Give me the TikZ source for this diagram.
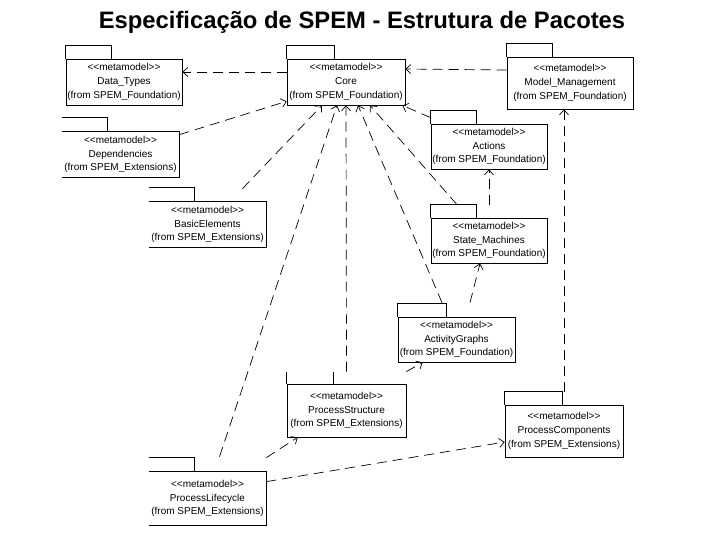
\documentclass[tikz,border=0pt]{standalone}
\usepackage{fontspec}
\setmainfont{Liberation Sans}
\usetikzlibrary{arrows.meta}
\newcommand{\mm}{<\kern0pt<metamodel>\kern0pt>}
\begin{document}
\begin{tikzpicture}[x=1pt, y=-1pt, line width=.7pt,
  pkg/.style={draw, align=center, inner sep=0pt, font=\fontsize{10}{13.8}\selectfont},
  pkgopen/.style={pkg, draw=none},
  dep/.style={draw, dash pattern=on 10pt off 6pt, -{Straight Barb[length=5pt,width=9pt]}}]
\useasboundingbox (0,0) rectangle (720,540);

\node[font=\bfseries\fontsize{23.8}{28}\selectfont, anchor=base] (title) at (362,29)
  {Especificação de SPEM - Estrutura de Pacotes};

% packages
\node[pkg, minimum width=116pt, minimum height=46pt] (dtypes) at (124,82)
  {\mm\\Data\_Types\\(from SPEM\_Foundation)};
\node[pkg, minimum width=118pt, minimum height=46pt] (core) at (346,82)
  {\mm\\Core\\(from SPEM\_Foundation)};
\node[pkg, minimum width=126pt, minimum height=52pt] (mmgmt) at (570,83)
  {\mm\\Model\_Management\\(from SPEM\_Foundation)};
\node[pkgopen, minimum width=117pt, minimum height=45pt] (deps) at (120.5,154.5)
  {\mm\\Dependencies\\(from SPEM\_Extensions)};
\node[pkg, minimum width=116pt, minimum height=45pt] (actions) at (489,146.5)
  {\mm\\Actions\\(from SPEM\_Foundation)};
\node[pkgopen, minimum width=117pt, minimum height=45pt] (basic) at (207.5,224.5)
  {\mm\\BasicElements\\(from SPEM\_Extensions)};
\node[pkg, minimum width=116pt, minimum height=45pt] (smach) at (489,240.5)
  {\mm\\State\_Machines\\(from SPEM\_Foundation)};
\node[pkg, minimum width=117pt, minimum height=45pt] (agraphs) at (456.5,339.5)
  {\mm\\ActivityGraphs\\(from SPEM\_Foundation)};
\node[pkg, minimum width=119pt, minimum height=53pt] (pstruct) at (346.5,410.5)
  {\mm\\ProcessStructure\\(from SPEM\_Extensions)};
\node[pkg, minimum width=118pt, minimum height=52pt] (pcomp) at (564,431)
  {\mm\\ProcessComponents\\(from SPEM\_Extensions)};
\node[pkgopen, minimum width=117pt, minimum height=53pt] (plc) at (207.5,498.5)
  {\mm\\ProcessLifecycle\\(from SPEM\_Extensions)};

% tabs
\foreach \n/\w in {dtypes/46,core/48,mmgmt/46,actions/46,smach/46,agraphs/49,pcomp/58}
  \draw (\n.north west) -- ++(0,-13) -| ([xshift=\w pt]\n.north west);
\draw ([yshift=12pt]pstruct.north west) -- (pstruct.north west);
\draw ([shift={(47pt,12pt)}]pstruct.north west) -- ([xshift=47pt]pstruct.north west);
\foreach \n in {deps,basic,plc}{
  \draw (\n.north west) -- (\n.north east) -- (\n.south east) -- (\n.south west);
  \draw ([yshift=14pt]\n.north west) -| ([xshift=46pt]\n.north west);
}

% dependencies
\draw[dep] ([yshift=10pt]core.west) -- ([yshift=10pt]dtypes.east);
\draw[dep] ([yshift=13pt]mmgmt.west) -- ([yshift=13pt]core.east);
\draw[dep] ([yshift=-3pt]deps.north east) -- ([yshift=4pt]core.south west);
\draw[dep] ([shift={(35pt,13pt)}]basic.north) -- ([xshift=-24pt]core.south);
\draw[dep] ([shift={(12pt,15pt)}]plc.north) -- ([xshift=-9pt]core.south);
\draw[dep] ([yshift=12pt]pstruct.north) -- (core.south);
\draw[dep] ([shift={(-14.5pt,14pt)}]agraphs.north) -- ([xshift=12pt]core.south);
\draw[dep] ([shift={(-32pt,13pt)}]smach.north) -- ([xshift=24pt]core.south);
\draw[dep] ([yshift=6pt]actions.north west) -- ([xshift=-3pt]core.south east);
\draw[dep] ([yshift=13pt]smach.north) -- (actions.south);
\draw[dep] ([shift={(13.5pt,14pt)}]agraphs.north) -- ([xshift=-9pt]smach.south);
\draw[dep] ([yshift=12pt]pstruct.north east) -- ([xshift=25pt]agraphs.south west);
\draw[dep] ([yshift=14pt]plc.north east) -- ([xshift=11pt]pstruct.south west);
\draw[dep] ([yshift=-10pt]plc.north east) -- ([yshift=-11pt]pcomp.west);
\draw[dep] ([yshift=13pt]pcomp.north) -- (pcomp.north |- mmgmt.south);
\end{tikzpicture}
\end{document}
